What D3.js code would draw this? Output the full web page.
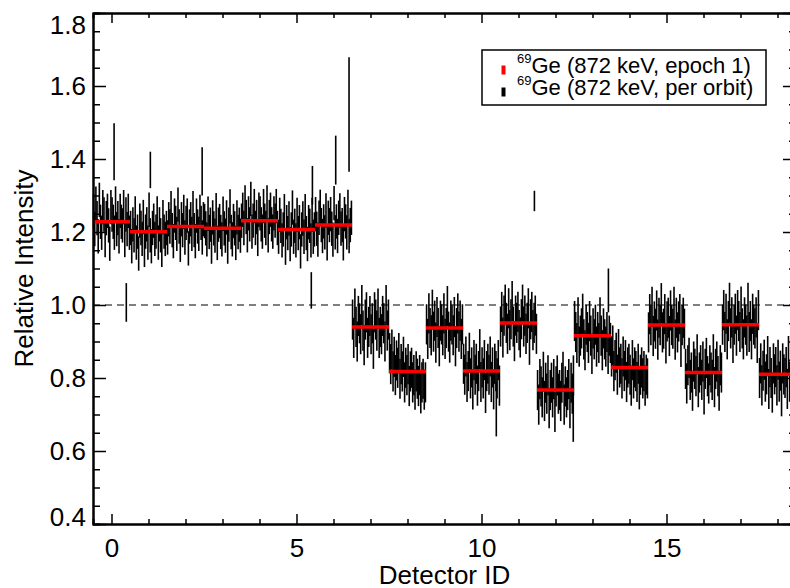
<!DOCTYPE html>
<html>
<head>
<meta charset="utf-8">
<script src="https://cdn.jsdelivr.net/npm/d3@7"></script>
<style>
  body { margin: 0; background: #fff; }
  svg { display: block; font-family: "Liberation Sans", Arial, sans-serif; }
</style>
</head>
<body>
<div id="chart"></div>
<script>
//--------------------- Data ---------------------------------------------------
const detectors = [0, 1, 2, 3, 4, 5, 6, 7, 8, 9, 10, 11, 12, 13, 14, 15, 16, 17, 18];

// 69Ge 872 keV, epoch 1 mean per detector (red bars)
const epochMeans = [1.228, 1.201, 1.215, 1.210, 1.231, 1.207, 1.219,
  0.940, 0.818, 0.937, 0.819, 0.951, 0.767, 0.916, 0.829, 0.945, 0.815, 0.946, 0.810];

// per orbit error (half length of the bars)
const orbitErr = [0.047, 0.047, 0.047, 0.047, 0.047, 0.047, 0.047,
  0.055, 0.055, 0.055, 0.055, 0.055, 0.055, 0.055, 0.055, 0.055, 0.055, 0.055, 0.055];

// per orbit values, read as offsets from the epoch mean, in units of 0.01
const orbitDev = [
  [3,-2,5,1,-4,6,0,-3,4,2,-5,1,3,-1,-6,4,2,0,-3,5,-2,1,-4,3,0,-1,4,-5,2,-2,3,-3],
  [1,-4,2,-1,5,-3,0,-6,3,1,-2,4,-5,0,2,-3,6,-1,-4,1,3,-2,0,5,-3,2,-1,-5,4,0,-2,1],
  [-3,2,0,5,-1,-4,3,1,-2,6,0,-5,2,-1,4,-3,1,3,-6,0,2,-2,5,-1,-4,3,0,-2,4,1,-3,2],
  [2,0,-3,4,-1,1,-5,3,0,-2,5,-4,1,2,-1,-3,4,0,-2,3,-5,1,6,-1,-3,2,0,-4,3,-1,1,-2],
  [0,3,-2,5,1,-4,2,-1,6,-3,0,4,-2,1,-5,3,2,-1,-3,4,0,-2,5,-4,1,3,-1,-3,2,0,4,-2],
  [-2,4,1,-3,0,5,-5,2,-1,3,-4,0,6,-2,1,-3,4,-1,2,-6,0,3,-2,5,-1,-4,2,1,-3,4,-2,0],
  [3,-1,-4,2,5,0,-3,1,-2,4,-5,2,0,3,-1,-4,6,-2,1,-3,2,4,-1,0,-5,3,1,-2,5,-3,0,2],
  [2,-3,5,0,-4,3,1,-2,6,-1,-5,2,4,-3,0,3,-2,1,-6,4,2,-1,5,-3,0,-2,3,1,-4,6,-1,2],
  [5,2,6,0,4,-1,3,1,5,-2,2,0,4,-3,1,-1,2,-4,0,1,-3,-1,-5,0,-2,-4,-1,-6,-3,-2,-5,-3],
  [1,-3,4,0,-2,5,-1,2,-4,3,0,-5,2,1,-2,4,-3,0,6,-1,-4,2,1,-2,3,-5,0,4,-1,2,-3,1],
  [2,-1,4,-3,0,5,-2,1,-5,3,-1,2,-4,0,6,-3,1,-2,3,-6,0,2,-1,4,-3,1,-5,2,0,-2,3,-4],
  [-1,3,-4,2,5,0,-3,4,-2,1,6,-1,-5,2,0,3,-2,-4,1,5,-1,2,-3,0,4,-6,1,3,-2,0,2,-3],
  [0,-4,3,1,-2,5,-3,2,-1,4,-5,0,2,-2,3,-6,1,4,-1,0,-3,2,5,-4,1,-2,0,3,-5,2,-1,4],
  [4,1,-2,5,-3,0,2,6,-1,-4,3,1,-2,4,0,-5,2,-1,3,-3,1,-2,5,0,-4,2,-1,-3,1,-5,0,-2],
  [3,6,-1,2,4,-2,5,0,1,-3,3,-1,2,-4,0,1,-2,-5,2,-3,0,-1,-4,1,-6,-2,0,-3,-1,-5,-2,-3],
  [-2,3,0,5,-3,1,-1,4,-4,2,0,6,-2,-1,3,-5,1,2,-3,4,0,-1,5,-4,2,-2,1,3,-6,0,2,-1],
  [1,-3,2,4,-2,0,-5,3,1,-1,5,-4,0,2,-2,3,-6,1,4,-1,-3,2,0,-2,5,-4,1,3,-1,-5,2,0],
  [0,4,-2,3,-4,1,6,-1,2,-5,0,3,-3,4,1,-2,5,-1,-4,2,0,-3,6,-2,1,-4,3,0,-1,2,-5,4],
  [-1,3,-3,1,4,-2,0,5,-4,2,-1,-5,3,0,2,-3,4,-2,1,-6,3,0,-1,2,-4,5,-2,1,-3,0,3,-1]
];

// single orbits far off the band: [detector position, value, error]
const spikes = [
  [0.07, 1.420, 0.078], [0.40, 1.007, 0.053], [1.05, 1.370, 0.050],
  [2.45, 1.366, 0.066], [5.43, 1.328, 0.053], [5.40, 1.040, 0.050],
  [6.06, 1.397, 0.067], [6.42, 1.522, 0.157], [10.40, 0.715, 0.075],
  [11.43, 1.285, 0.028], [12.48, 0.700, 0.075], [13.43, 1.040, 0.060]
];

const yTicks = [0.4, 0.6, 0.8, 1.0, 1.2, 1.4, 1.6, 1.8];
const xTicks = [0, 5, 10, 15];
const referenceLevel = 1.0;
const legendLabels = ['Ge (872 keV, epoch 1)', 'Ge (872 keV, per orbit)'];

//--------------------- Layout -------------------------------------------------
const totalWidth = 790, totalHeight = 588;
const plot = { left: 93, right: 796, top: 13, bottom: 524 };
const fontSize = 26;

const svg = d3.select('#chart').append('svg')
  .attr('width', totalWidth)
  .attr('height', totalHeight);

const xScale = d3.scaleLinear().domain([-0.5, 18.5]).range([plot.left, plot.right]);
const yScale = d3.scaleLinear().domain([0.4, 1.8]).range([plot.bottom, plot.top]);

//--------------------- Reference line -----------------------------------------
svg.append('line')
  .attr('x1', xScale(-0.5)).attr('x2', xScale(18.5))
  .attr('y1', yScale(referenceLevel)).attr('y2', yScale(referenceLevel))
  .attr('stroke', '#000')
  .attr('stroke-width', 1.2)
  .attr('stroke-dasharray', '7,5');

//--------------------- Per orbit bars -----------------------------------------
const orbits = [];
detectors.forEach((d, di) => {
  const devs = orbitDev[di];
  devs.forEach((v, i) => {
    orbits.push({
      pos: d - 0.5 + (i + 0.5) / devs.length,
      value: epochMeans[di] + v / 100,
      err: orbitErr[di]
    });
  });
});
spikes.forEach(s => orbits.push({ pos: s[0], value: s[1], err: s[2] }));

svg.append('g')
  .selectAll('line')
  .data(orbits)
  .enter()
  .append('line')
  .attr('x1', d => xScale(d.pos))
  .attr('x2', d => xScale(d.pos))
  .attr('y1', d => yScale(d.value - d.err))
  .attr('y2', d => yScale(d.value + d.err))
  .attr('stroke', '#000')
  .attr('stroke-width', 1.6);

//--------------------- Epoch means --------------------------------------------
svg.append('g')
  .selectAll('line')
  .data(detectors)
  .enter()
  .append('line')
  .attr('x1', d => xScale(d - 0.5))
  .attr('x2', d => xScale(d + 0.5))
  .attr('y1', (d, i) => yScale(epochMeans[i]))
  .attr('y2', (d, i) => yScale(epochMeans[i]))
  .attr('stroke', '#ff0000')
  .attr('stroke-width', 3.5);

//--------------------- Axes ---------------------------------------------------
const yMinor = d3.range(9, 36).map(k => k * 0.05).filter(v => Math.round(v * 100) % 20 !== 0);
const xMinor = detectors.filter(d => d % 5 !== 0);

function styleAxis(g){
  g.select('.domain').attr('stroke', '#000').attr('stroke-width', 2);
  g.selectAll('.tick line').attr('stroke', '#000').attr('stroke-width', 1.5);
  g.selectAll('text')
    .attr('fill', '#000')
    .style('font-size', fontSize + 'px')
    .style('font-family', '"Liberation Sans", Arial, sans-serif');
}

const leftAxis = svg.append('g')
  .attr('transform', 'translate(' + plot.left + ',0)')
  .call(d3.axisLeft(yScale).tickValues(yTicks).tickSizeInner(-13).tickSizeOuter(0)
    .tickPadding(7).tickFormat(d3.format('.1f')));
styleAxis(leftAxis);
leftAxis.selectAll('text')
  .attr('y', d => d === 1.8 ? 12 : (d === 0.4 ? -7 : 0));
svg.append('g')
  .attr('transform', 'translate(' + plot.left + ',0)')
  .call(d3.axisLeft(yScale).tickValues(yMinor).tickSize(-7).tickFormat(''))
  .call(styleAxis);

svg.append('g')
  .attr('transform', 'translate(' + plot.right + ',0)')
  .call(d3.axisRight(yScale).tickValues(yTicks).tickSizeInner(-13).tickSizeOuter(0).tickFormat(''))
  .call(styleAxis);
svg.append('g')
  .attr('transform', 'translate(' + plot.right + ',0)')
  .call(d3.axisRight(yScale).tickValues(yMinor).tickSize(-7).tickFormat(''))
  .call(styleAxis);

svg.append('g')
  .attr('transform', 'translate(0,' + plot.bottom + ')')
  .call(d3.axisBottom(xScale).tickValues(xTicks).tickSizeInner(-10).tickSizeOuter(0).tickPadding(15))
  .call(styleAxis);
svg.append('g')
  .attr('transform', 'translate(0,' + plot.bottom + ')')
  .call(d3.axisBottom(xScale).tickValues(xMinor).tickSize(-5).tickFormat(''))
  .call(styleAxis);

svg.append('g')
  .attr('transform', 'translate(0,' + plot.top + ')')
  .call(d3.axisTop(xScale).tickValues(xTicks).tickSizeInner(-10).tickSizeOuter(0).tickFormat(''))
  .call(styleAxis);
svg.append('g')
  .attr('transform', 'translate(0,' + plot.top + ')')
  .call(d3.axisTop(xScale).tickValues(xMinor).tickSize(-5).tickFormat(''))
  .call(styleAxis);

//--------------------- Axis titles --------------------------------------------
svg.append('text')
  .attr('x', (plot.left + plot.right) / 2)
  .attr('y', 584)
  .attr('text-anchor', 'middle')
  .style('font-size', fontSize + 'px')
  .text('Detector ID');

svg.append('text')
  .attr('transform', 'translate(33,' + (plot.top + plot.bottom) / 2 + ') rotate(-90)')
  .attr('text-anchor', 'middle')
  .style('font-size', fontSize + 'px')
  .text('Relative Intensity');

//--------------------- Legend -------------------------------------------------
const legend = svg.append('g').attr('transform', 'translate(482,50)');
legend.append('rect')
  .attr('width', 284).attr('height', 55)
  .attr('fill', '#fff').attr('stroke', '#000').attr('stroke-width', 1.5);

const legendColors = ['#ff0000', '#000'];
legendLabels.forEach((label, i) => {
  const row = legend.append('g').attr('transform', 'translate(0,' + (22.5 + i * 22) + ')');
  row.append('rect')
    .attr('x', 19.5).attr('y', -7).attr('width', 4).attr('height', 9)
    .attr('fill', legendColors[i]);
  const t = row.append('text').attr('x', 35).attr('y', 0);
  t.append('tspan')
    .attr('dy', -10)
    .style('font-size', '13px')
    .text('69');
  t.append('tspan')
    .attr('dy', 10)
    .style('font-size', '22px')
    .text(label);
});
</script>
</body>
</html>
